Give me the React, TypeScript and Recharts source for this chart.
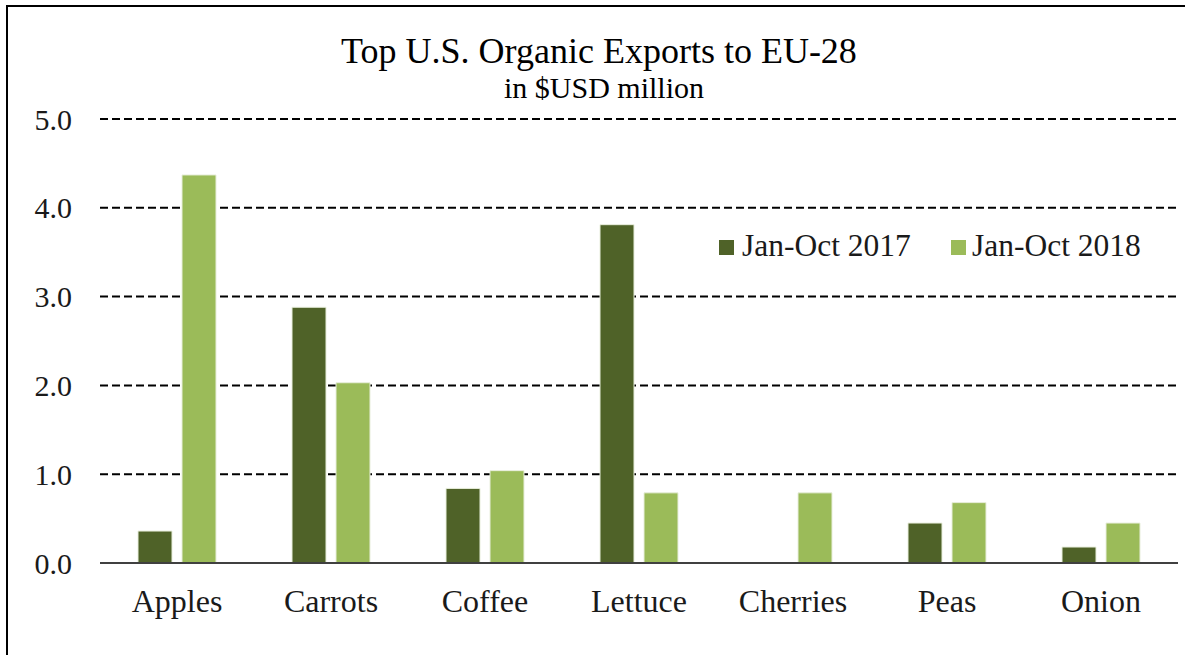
import { BarChart, Bar, XAxis, YAxis, CartesianGrid } from 'recharts'

const categories = ['Apples', 'Carrots', 'Coffee', 'Lettuce', 'Cherries', 'Peas', 'Onion']
const exports2017 = [0.36, 2.88, 0.84, 3.81, 0, 0.45, 0.18]
const exports2018 = [4.37, 2.03, 1.04, 0.79, 0.79, 0.68, 0.45]
const seriesNames = ['Jan-Oct 2017', 'Jan-Oct 2018']
const yTicks = [0, 1, 2, 3, 4, 5]

const DARK = '#4f6228'
const LIGHT = '#9bbb59'
const FONT = '"Liberation Serif", "Times New Roman", serif'
const TEXT = '#1a1a1a'

export default function App() {
  const data = categories.map((name, i) => ({
    name,
    y2017: exports2017[i],
    y2018: exports2018[i],
  }))

  const textStyle = { fontFamily: FONT }

  return (
    <div
      style={{
        position: 'absolute',
        left: 0,
        top: 0,
        width: 1185,
        height: 655,
        overflow: 'hidden',
        background: '#fff',
      }}
    >
      {/* outer frame, runs off the right and bottom edge */}
      <div
        style={{
          position: 'absolute',
          left: 6,
          top: 5,
          width: 1300,
          height: 800,
          border: '2px solid #000',
        }}
      />
      <BarChart
        width={1185}
        height={655}
        data={data}
        margin={{ top: 119, right: 7, bottom: 0, left: 0 }}
        barSize={34}
        barGap={10}
        style={{ position: 'absolute', left: 0, top: 0, fontFamily: FONT }}
      >
        <CartesianGrid
          vertical={false}
          stroke="#000"
          strokeWidth={2}
          strokeDasharray="8 4"
        />
        <XAxis
          dataKey="name"
          height={92}
          tickLine={false}
          tickSize={0}
          tickMargin={26}
          axisLine={{ stroke: '#404040', strokeWidth: 2 }}
          tick={{ fontSize: 32, fill: TEXT, fontFamily: FONT }}
        />
        <YAxis
          width={100}
          domain={[0, 5]}
          ticks={yTicks}
          tickFormatter={(v: number) => v.toFixed(1)}
          axisLine={false}
          tickLine={false}
          tickSize={0}
          tickMargin={28}
          tick={{ fontSize: 30, fill: TEXT, fontFamily: FONT }}
        />
        <Bar
          dataKey="y2017"
          name={seriesNames[0]}
          fill={DARK}
          stroke="#e8eedc"
          strokeWidth={1}
          isAnimationActive={false}
        />
        <Bar
          dataKey="y2018"
          name={seriesNames[1]}
          fill={LIGHT}
          stroke="#e8eedc"
          strokeWidth={1}
          isAnimationActive={false}
        />
      </BarChart>

      {/* title, subtitle and legend */}
      <svg
        width={1185}
        height={655}
        style={{ position: 'absolute', left: 0, top: 0, pointerEvents: 'none' }}
      >
        <text x={599} y={63} textAnchor="middle" fontSize={36} fill="#000" style={textStyle}>
          Top U.S. Organic Exports to EU-28
        </text>
        <text x={604} y={98} textAnchor="middle" fontSize={30} fill="#000" style={textStyle}>
          in $USD million
        </text>
        <rect x={719} y={240} width={15} height={15} fill={DARK} />
        <text x={742} y={256} fontSize={31.5} fill={TEXT} style={textStyle}>
          {seriesNames[0]}
        </text>
        <rect x={951} y={240} width={15} height={15} fill={LIGHT} />
        <text x={972} y={256} fontSize={31.5} fill={TEXT} style={textStyle}>
          {seriesNames[1]}
        </text>
      </svg>
    </div>
  )
}
